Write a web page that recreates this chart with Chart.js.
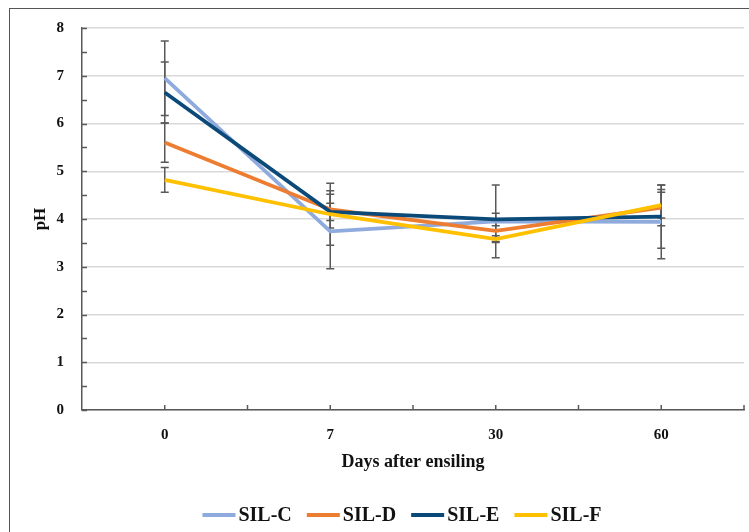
<!DOCTYPE html>
<html>
<head>
<meta charset="utf-8">
<script src="https://cdn.jsdelivr.net/npm/chart.js@4.4.1/dist/chart.umd.min.js"></script>
<style>
  html, body { margin: 0; padding: 0; background: #fff; overflow: hidden; }
  #wrap { position: relative; width: 749px; height: 532px; }
  #frame {
    position: absolute; left: 9px; top: 8px; width: 800px; height: 600px;
    border-top: 1.5px solid #555; border-left: 1.5px solid #555;
    pointer-events: none;
  }
  canvas { position: absolute; left: 0; top: 0; }
</style>
</head>
<body>
<div id="wrap">
  <canvas id="chart" width="749" height="532"></canvas>
  <div id="frame"></div>
</div>
<script>
/* ── Data ───────────────────────────────────────────────── */
const days = ['0', '7', '30', '60'];

const silC = [6.95, 3.74, 3.95, 3.94];
const silD = [5.60, 4.20, 3.75, 4.24];
const silE = [6.65, 4.15, 3.99, 4.05];
const silF = [4.82, 4.10, 3.58, 4.29];

const errC = [0.78, 0.78, 0.76, 0.77];
const errD = [0.41, 0.39, 0.22, 0.38];
const errE = [0.64, 0.18, 0.13, 0.66];
const errF = [0.26, 0.65, 0.07, 0.27];

const yTicks = [0, 1, 2, 3, 4, 5, 6, 7, 8];

const SERIF = "'Liberation Serif', 'DejaVu Serif', serif";
const AXIS  = '#595959';

/* ── Error bars, inside tick marks, legend ──────────────── */
const extras = {
  id: 'extras',
  beforeDatasetsDraw(chart) {
    const { ctx } = chart;
    const y = chart.scales.y;
    ctx.save();
    ctx.strokeStyle = AXIS;
    ctx.lineWidth = 1.5;
    chart.data.datasets.forEach((ds, di) => {
      const meta = chart.getDatasetMeta(di);
      ds.data.forEach((v, i) => {
        const e = ds.err[i];
        const x = meta.data[i].x;
        const top = y.getPixelForValue(v + e);
        const bot = y.getPixelForValue(v - e);
        ctx.beginPath();
        ctx.moveTo(x, top); ctx.lineTo(x, bot);
        ctx.moveTo(x - 4, top); ctx.lineTo(x + 4, top);
        ctx.moveTo(x - 4, bot); ctx.lineTo(x + 4, bot);
        ctx.stroke();
      });
    });
    ctx.restore();
  },
  afterDraw(chart) {
    const { ctx, chartArea: a } = chart;
    const y = chart.scales.y;
    ctx.save();
    ctx.strokeStyle = AXIS;
    ctx.lineWidth = 1.5;
    ctx.beginPath();
    // y axis ticks every 0.5
    for (let v = y.min; v <= y.max; v += 0.5) {
      const py = Math.round(y.getPixelForValue(v)) + 0.5;
      ctx.moveTo(a.left, py); ctx.lineTo(a.left + 5, py);
    }
    // x axis ticks at category centres and boundaries
    const n = days.length * 2;
    for (let i = 1; i <= n; i++) {
      const px = a.left + (a.right - a.left) * i / n;
      ctx.moveTo(px, a.bottom); ctx.lineTo(px, a.bottom - 5);
    }
    ctx.stroke();

    // legend: swatch, small gap, label
    const sw = 33, gapIn = 3, gapOut = 15, ly = 515;
    ctx.font = `bold 20px ${SERIF}`;
    ctx.textBaseline = 'middle';
    const items = chart.data.datasets.map(ds => ({
      text: ds.label, color: ds.borderColor, w: sw + gapIn + ctx.measureText(ds.label).width,
    }));
    const total = items.reduce((s, it) => s + it.w, 0) + gapOut * (items.length - 1);
    let x = 402 - total / 2;
    items.forEach(it => {
      ctx.strokeStyle = it.color;
      ctx.lineWidth = 4;
      ctx.beginPath();
      ctx.moveTo(x, ly); ctx.lineTo(x + sw, ly);
      ctx.stroke();
      ctx.fillStyle = '#111';
      ctx.fillText(it.text, x + sw + gapIn, ly + 1);
      x += it.w + gapOut;
    });
    ctx.restore();
  },
};

/* ── Chart ──────────────────────────────────────────────── */
const mk = (label, data, err, color, order) => ({
  label, data, err,
  borderColor: color,
  backgroundColor: color,
  borderWidth: 3.75,
  pointRadius: 0,
  tension: 0,
  order,
});

new Chart(document.getElementById('chart'), {
  type: 'line',
  data: {
    labels: days,
    datasets: [
      mk('SIL-C', silC, errC, '#8FAADC', 3),
      mk('SIL-D', silD, errD, '#ED7D31', 2),
      mk('SIL-E', silE, errE, '#0B4A78', 1),
      mk('SIL-F', silF, errF, '#FFC000', 0),
    ],
  },
  options: {
    responsive: false,
    animation: false,
    layout: { padding: { left: 0, top: 28, right: 5, bottom: 36 } },
    plugins: {
      tooltip: { enabled: false },
      legend: { display: false },
    },
    scales: {
      x: {
        offset: true,
        grid: { display: false, drawTicks: false },
        border: { display: true, color: AXIS, width: 1.5 },
        ticks: { padding: 16, color: '#111', font: { family: SERIF, size: 15, weight: 'bold' } },
        title: {
          display: true,
          text: 'Days after ensiling',
          color: '#111',
          font: { family: SERIF, size: 18, weight: 'bold' },
          padding: { top: 0, bottom: 23 },
        },
        afterFit(s) { s.height = 86; },
      },
      y: {
        min: 0,
        max: 8,
        afterBuildTicks(s) { s.ticks = yTicks.map(v => ({ value: v })); },
        grid: { color: '#D9D9D9', lineWidth: 1.5, drawTicks: false },
        border: { display: true, color: AXIS, width: 1.5 },
        ticks: { padding: 18, color: '#111', font: { family: SERIF, size: 15, weight: 'bold' } },
        title: {
          display: true,
          text: 'pH',
          color: '#111',
          font: { family: SERIF, size: 17, weight: 'bold' },
          padding: { top: 30, bottom: 0 },
        },
        afterFit(s) { s.width = 82; },
      },
    },
  },
  plugins: [extras],
});
</script>
</body>
</html>
